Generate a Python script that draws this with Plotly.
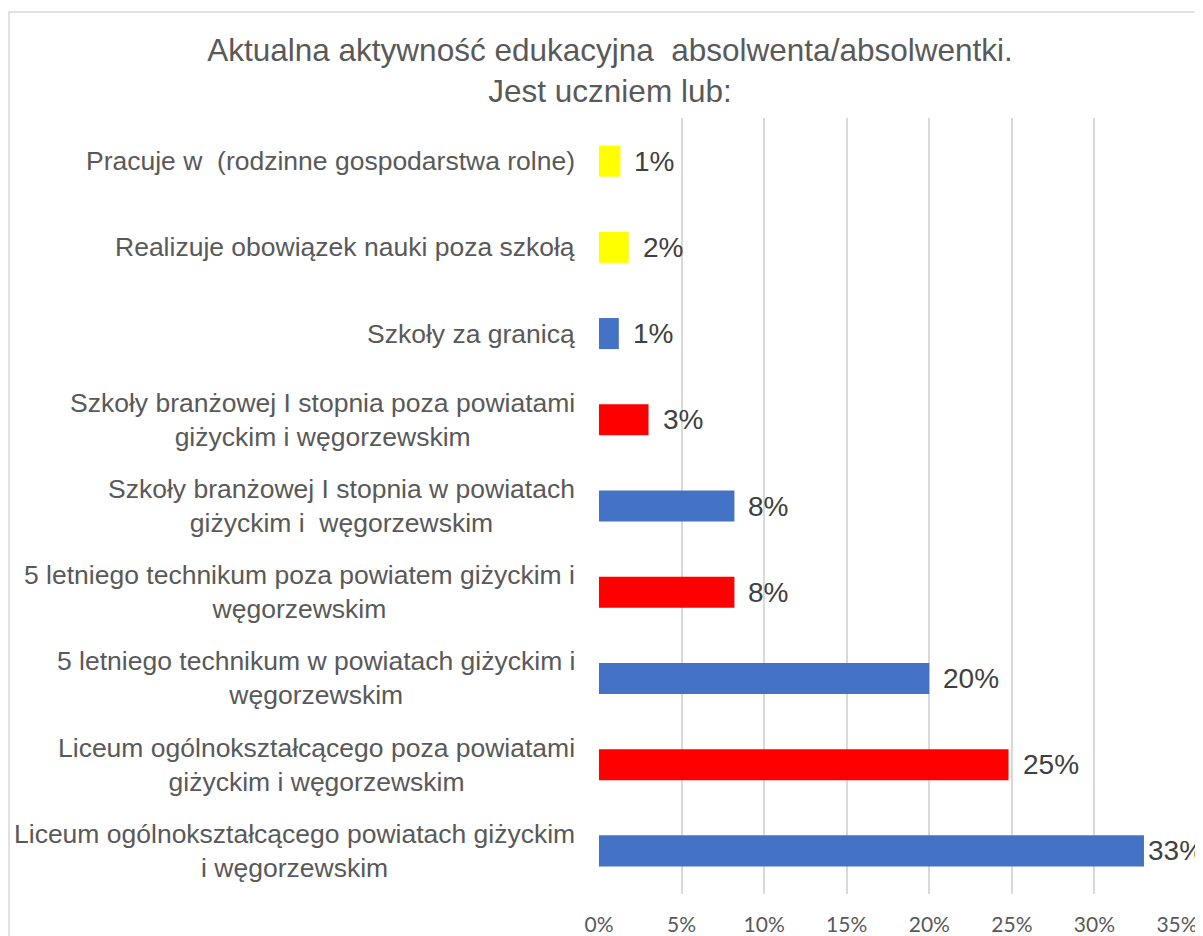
import plotly.graph_objects as go

# Data (bottom to top, as drawn)
categories = [
    "Liceum ogólnokształcącego powiatach giżyckim<br>i węgorzewskim",
    "Liceum ogólnokształcącego poza powiatami<br>giżyckim i węgorzewskim",
    "5 letniego technikum w powiatach giżyckim i<br>węgorzewskim",
    "5 letniego technikum poza powiatem giżyckim i<br>węgorzewskim",
    "Szkoły branżowej I stopnia w powiatach<br>giżyckim i  węgorzewskim",
    "Szkoły branżowej I stopnia poza powiatami<br>giżyckim i węgorzewskim",
    "Szkoły za granicą",
    "Realizuje obowiązek nauki poza szkołą",
    "Pracuje w  (rodzinne gospodarstwa rolne)",
]
values = [0.330, 0.248, 0.200, 0.082, 0.082, 0.030, 0.012, 0.018, 0.013]
value_labels = ["33%", "25%", "20%", "8%", "8%", "3%", "1%", "2%", "1%"]
bar_colors = ["#4472C4", "#FF0000", "#4472C4", "#FF0000", "#4472C4",
              "#FF0000", "#4472C4", "#FFFF00", "#FFFF00"]
x_ticks = [0, 0.05, 0.10, 0.15, 0.20, 0.25, 0.30, 0.35]
x_tick_labels = ["0%", "5%", "10%", "15%", "20%", "25%", "30%", "35%"]

W, H = 1195, 928
L, R, T, B = 591, 26, 110, 42
pw, ph = W - L - R, H - T - B

fig = go.Figure(go.Bar(
    x=values,
    y=list(range(len(categories))),
    orientation="h",
    marker=dict(color=bar_colors, line=dict(width=0)),
    width=0.36,
    hoverinfo="x",
))

# Category labels as annotations so wrapped lines stay centred
for i, label in enumerate(categories):
    fig.add_annotation(
        x=0, xref="paper", y=i, yref="y",
        text=label, showarrow=False,
        xanchor="right", xshift=-22, align="center",
        font=dict(family="Liberation Sans, Arial", size=26.5, color="#595959"),
    )

# Value labels to the right of each bar (squeezed closer near the axis end)
for i, (v, lab) in enumerate(zip(values, value_labels)):
    fig.add_annotation(
        x=v, xref="x", y=i, yref="y",
        text=lab, showarrow=False,
        xanchor="left", xshift=2 if v > 0.32 else 12,
        font=dict(family="Liberation Sans, Arial", size=28, color="#404040"),
    )

fig.update_layout(
    width=W, height=H,
    margin=dict(l=L, r=R, t=T, b=B, autoexpand=False),
    plot_bgcolor="white",
    paper_bgcolor="white",
    showlegend=False,
    title=dict(
        text="Aktualna aktywność edukacyjna  absolwenta/absolwentki.<br>Jest uczniem lub:",
        x=602 / W, xanchor="center", y=1 - 53 / H, yanchor="middle",
        font=dict(family="Liberation Sans, Arial", size=31.5, color="#595959"),
    ),
    xaxis=dict(
        range=[0, 0.35], tickvals=x_ticks, ticktext=x_tick_labels,
        showgrid=True, gridcolor="#D9D9D9", gridwidth=2,
        zeroline=False, showline=False, ticks="",
        tickfont=dict(family="Lato, Open Sans", size=21, color="#595959"),
        ticklabelstandoff=16, automargin=False,
    ),
    yaxis=dict(
        range=[-0.5, len(categories) - 0.5], automargin=False,
        showticklabels=False, showgrid=False, zeroline=False, showline=False,
    ),
    shapes=[dict(type="rect", xref="paper", yref="paper",
                 x0=(1 - L) / pw, x1=1.3, y0=-0.3, y1=1 + (T - 4) / ph,
                 line=dict(color="#D9D9D9", width=1.5), fillcolor="rgba(0,0,0,0)",
                 layer="below")],
)

fig.write_html("out.html")
